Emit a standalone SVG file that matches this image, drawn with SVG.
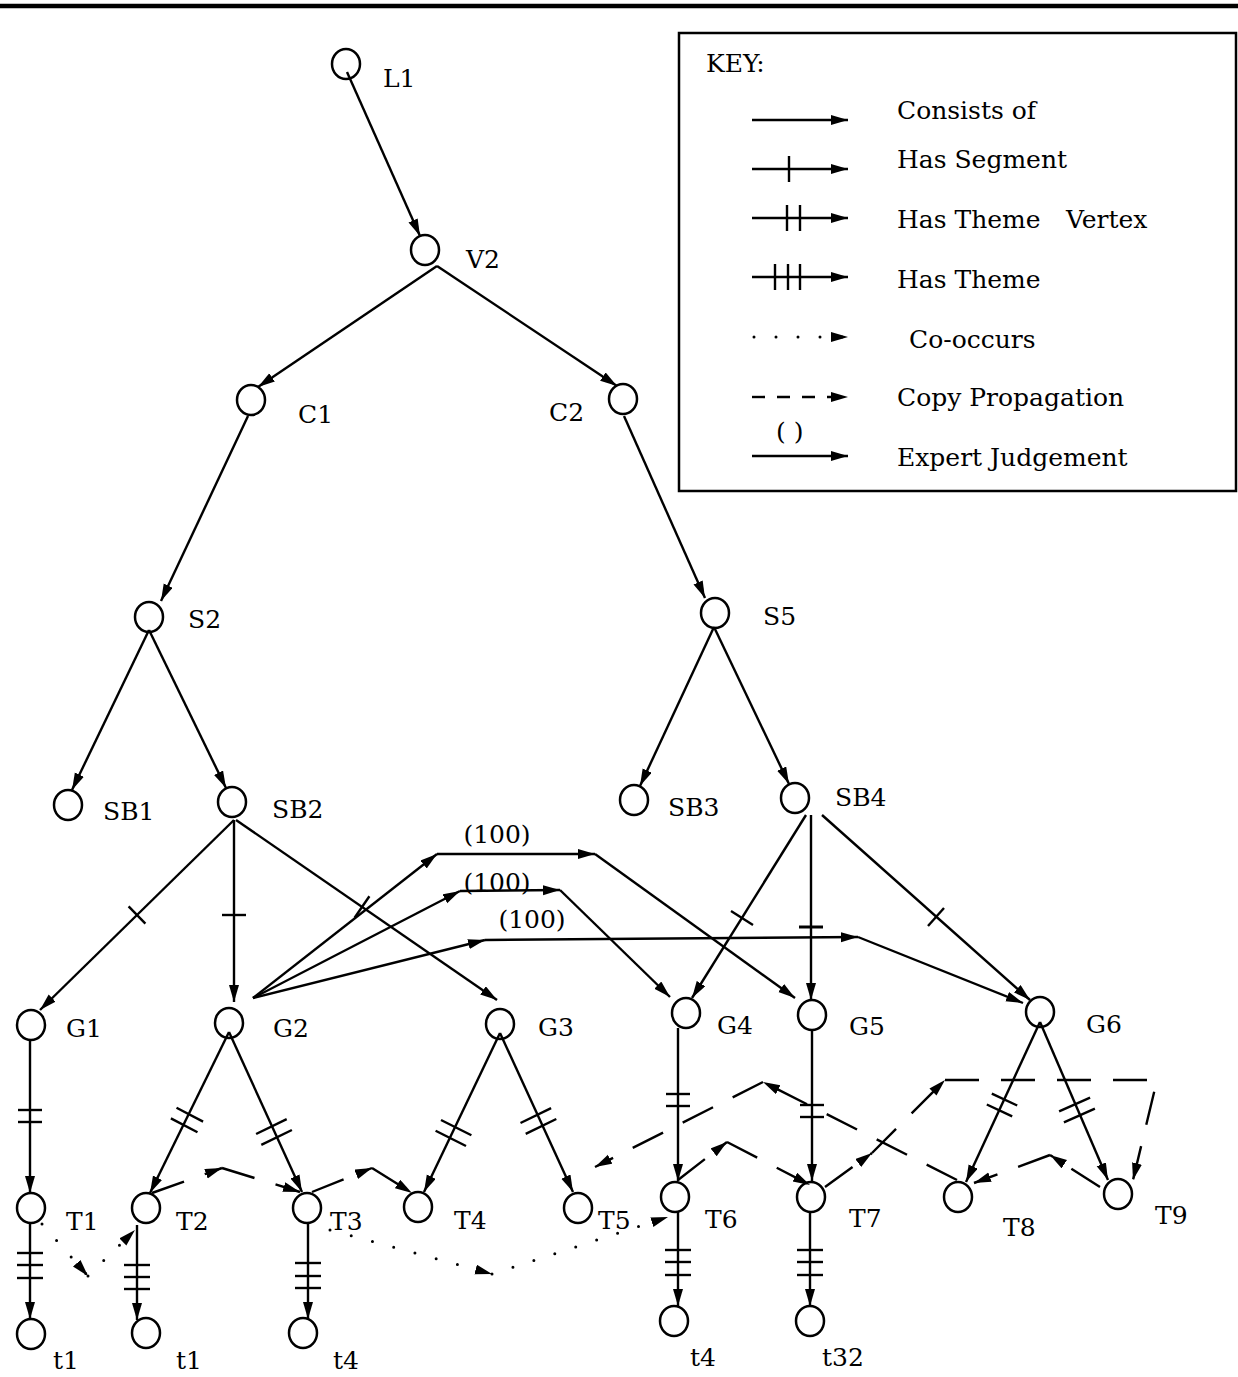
<svg xmlns="http://www.w3.org/2000/svg" width="1238" height="1377" viewBox="0 0 1238 1377">
<defs>
<marker id="ah" markerUnits="userSpaceOnUse" markerWidth="18" markerHeight="11" refX="17" refY="5" orient="auto"><path d="M0,0 L17,5 L0,10 z" fill="#000" stroke="none"/></marker>
<style>
.e{stroke:#000;stroke-width:2.4;fill:none;marker-end:url(#ah)}
.t{stroke:#000;stroke-width:2.4;fill:none}
.cp{stroke-dasharray:34 22}
.co{stroke-dasharray:0 22;stroke-linecap:round;stroke-width:3}
.n{fill:none;stroke:#000;stroke-width:2.5}
text{font-family:"DejaVu Serif","Liberation Serif",serif;font-size:25px;fill:#000}
</style>
</defs>
<rect width="1238" height="1377" fill="#fff"/>
<line x1="0" y1="6" x2="1238" y2="6" stroke="#000" stroke-width="4.5"/>

<g id="key">
<rect x="679" y="33" width="557" height="458" fill="none" stroke="#000" stroke-width="2.5"/>
<text x="706" y="72">KEY:</text>
<line class="e" x1="752" y1="120" x2="848" y2="120"/>
<text x="897" y="119">Consists of</text>
<line class="e" x1="752" y1="169" x2="848" y2="169"/>
<line class="t" x1="789" y1="156" x2="789" y2="182"/>
<text x="897" y="168">Has Segment</text>
<line class="e" x1="752" y1="218" x2="848" y2="218"/>
<line class="t" x1="787" y1="205" x2="787" y2="231"/>
<line class="t" x1="800" y1="205" x2="800" y2="231"/>
<text x="897" y="228">Has Theme<tspan x="1066">Vertex</tspan></text>
<line class="e" x1="752" y1="277" x2="848" y2="277"/>
<line class="t" x1="775" y1="264" x2="775" y2="290"/>
<line class="t" x1="788" y1="264" x2="788" y2="290"/>
<line class="t" x1="800" y1="264" x2="800" y2="290"/>
<text x="897" y="288">Has Theme</text>
<line class="e co" x1="754" y1="337" x2="848" y2="337"/>
<text x="909" y="348">Co-occurs</text>
<line class="e" x1="752" y1="397" x2="848" y2="397" style="stroke-dasharray:13 12"/>
<text x="897" y="406">Copy Propagation</text>
<text x="776" y="440">( )</text>
<line class="e" x1="752" y1="456" x2="848" y2="456"/>
<text x="897" y="466">Expert Judgement</text>
</g>

<g id="connectors">
<!-- consists of -->
<line class="e" x1="347" y1="72" x2="420" y2="236"/>
<line class="e" x1="437" y1="266" x2="258" y2="387"/>
<line class="e" x1="437" y1="266" x2="617" y2="386"/>
<line class="e" x1="248" y1="416" x2="161" y2="601"/>
<line class="e" x1="624" y1="416" x2="705" y2="598"/>
<line class="e" x1="149" y1="630" x2="72" y2="790"/>
<line class="e" x1="149" y1="630" x2="226" y2="788"/>
<line class="e" x1="714" y1="627" x2="640" y2="786"/>
<line class="e" x1="714" y1="627" x2="789" y2="784"/>
<!-- has segment -->
<line class="e" x1="234" y1="820" x2="40" y2="1010"/>
<line class="t" x1="128.6" y1="906.4" x2="145.4" y2="923.6"/>
<line class="e" x1="234" y1="820" x2="234" y2="1002"/>
<line class="t" x1="222" y1="915" x2="246" y2="915"/>
<line class="e" x1="236" y1="820" x2="497" y2="1000"/>
<line class="t" x1="354.6" y1="917.7" x2="369.4" y2="896.3"/>
<line class="e" x1="806" y1="815" x2="692" y2="998"/>
<line class="t" x1="731" y1="911.1" x2="753" y2="924.9"/>
<line class="e" x1="811" y1="815" x2="811" y2="1000"/>
<line class="t" x1="799" y1="927" x2="823" y2="927" style="stroke-width:3"/>
<line class="e" x1="822" y1="815" x2="1030" y2="1000"/>
<line class="t" x1="928" y1="926" x2="944" y2="908"/>
<!-- expert judgement -->
<line class="e" x1="253" y1="998" x2="437" y2="854"/>
<line class="e" x1="437" y1="854" x2="595" y2="854"/>
<line class="e" x1="595" y1="854" x2="795" y2="998"/>
<line class="e" x1="253" y1="998" x2="460" y2="891"/>
<line class="e" x1="460" y1="891" x2="560" y2="890"/>
<line class="e" x1="560" y1="890" x2="670" y2="997"/>
<line class="e" x1="253" y1="998" x2="485" y2="940"/>
<line class="e" x1="485" y1="940" x2="858" y2="937"/>
<line class="e" x1="858" y1="937" x2="1023" y2="1003"/>
<text x="497" y="843" text-anchor="middle">(100)</text>
<text x="497" y="891" text-anchor="middle">(100)</text>
<text x="532" y="928" text-anchor="middle">(100)</text>
<!-- has theme vertex -->
<line class="e" x1="30" y1="1040" x2="30" y2="1193"/>
<line class="t" x1="18" y1="1110" x2="42" y2="1110"/>
<line class="t" x1="18" y1="1122" x2="42" y2="1122"/>
<line class="e" x1="229" y1="1032" x2="150" y2="1193"/>
<line class="t" x1="176.5" y1="1107.8" x2="203.1" y2="1121.6"/>
<line class="t" x1="170.9" y1="1118.4" x2="197.5" y2="1132.2"/>
<line class="e" x1="229" y1="1032" x2="302" y2="1192"/>
<line class="t" x1="256.1" y1="1134" x2="286.7" y2="1119.2"/>
<line class="t" x1="261.3" y1="1144.8" x2="291.9" y2="1130"/>
<line class="e" x1="500" y1="1033" x2="424" y2="1192"/>
<line class="t" x1="441" y1="1120" x2="471.4" y2="1135.2"/>
<line class="t" x1="435.6" y1="1130.8" x2="466" y2="1146"/>
<line class="e" x1="500" y1="1033" x2="573" y2="1192"/>
<line class="t" x1="520.5" y1="1123" x2="551.1" y2="1108.2"/>
<line class="t" x1="525.7" y1="1133.8" x2="556.3" y2="1119"/>
<line class="e" x1="678" y1="1028" x2="678" y2="1181"/>
<line class="t" x1="666" y1="1094" x2="690" y2="1094"/>
<line class="t" x1="666" y1="1106" x2="690" y2="1106"/>
<line class="e" x1="812" y1="1030" x2="812" y2="1181"/>
<line class="t" x1="800" y1="1105" x2="824" y2="1105"/>
<line class="t" x1="800" y1="1117" x2="824" y2="1117"/>
<line class="e" x1="1040" y1="1022" x2="966" y2="1182"/>
<line class="t" x1="991.8" y1="1093.7" x2="1017.2" y2="1105.5"/>
<line class="t" x1="986.8" y1="1104.5" x2="1012.2" y2="1116.3"/>
<line class="e" x1="1040" y1="1022" x2="1108" y2="1180"/>
<line class="t" x1="1059.1" y1="1111.4" x2="1090.1" y2="1097.6"/>
<line class="t" x1="1063.9" y1="1122.4" x2="1094.9" y2="1108.6"/>
<!-- has theme -->
<line class="e" x1="30" y1="1222" x2="30" y2="1319"/>
<line class="t" x1="17" y1="1253" x2="43" y2="1253"/>
<line class="t" x1="17" y1="1265" x2="43" y2="1265"/>
<line class="t" x1="17" y1="1278" x2="43" y2="1278"/>
<line class="e" x1="137" y1="1225" x2="137" y2="1320"/>
<line class="t" x1="124" y1="1265" x2="150" y2="1265"/>
<line class="t" x1="124" y1="1277" x2="150" y2="1277"/>
<line class="t" x1="124" y1="1289" x2="150" y2="1289"/>
<line class="e" x1="308" y1="1224" x2="308" y2="1319"/>
<line class="t" x1="295" y1="1263" x2="321" y2="1263"/>
<line class="t" x1="295" y1="1276" x2="321" y2="1276"/>
<line class="t" x1="295" y1="1288" x2="321" y2="1288"/>
<line class="e" x1="678" y1="1212" x2="678" y2="1306"/>
<line class="t" x1="665" y1="1250" x2="691" y2="1250"/>
<line class="t" x1="665" y1="1262" x2="691" y2="1262"/>
<line class="t" x1="665" y1="1275" x2="691" y2="1275"/>
<line class="e" x1="810" y1="1212" x2="810" y2="1306"/>
<line class="t" x1="797" y1="1250" x2="823" y2="1250"/>
<line class="t" x1="797" y1="1262" x2="823" y2="1262"/>
<line class="t" x1="797" y1="1275" x2="823" y2="1275"/>
<!-- copy propagation -->
<line class="e cp" x1="152" y1="1193" x2="222" y2="1168"/>
<line class="e cp" x1="222" y1="1168" x2="300" y2="1192"/>
<line class="e cp" x1="312" y1="1192" x2="372" y2="1168"/>
<line class="e cp" x1="372" y1="1168" x2="412" y2="1193"/>
<line class="e cp" x1="678" y1="1180" x2="727" y2="1142"/>
<line class="e cp" x1="727" y1="1142" x2="810" y2="1185"/>
<line class="e cp" x1="957" y1="1180" x2="763" y2="1082"/>
<line class="e cp" x1="763" y1="1082" x2="595" y2="1167"/>
<line class="e cp" x1="825" y1="1187" x2="872" y2="1153"/>
<line class="e cp" x1="872" y1="1153" x2="945" y2="1080"/>
<polyline class="e cp" points="945,1080 1157,1080 1133,1180"/>
<line class="e cp" x1="1100" y1="1187" x2="1050" y2="1155"/>
<line class="e cp" x1="1050" y1="1155" x2="974" y2="1183"/>
<!-- co-occurs -->
<line class="e co" x1="42" y1="1224" x2="88" y2="1276"/>
<line class="e co" x1="88" y1="1276" x2="135" y2="1230"/>
<line class="e co" x1="330" y1="1230" x2="492" y2="1274"/>
<line class="e co" x1="492" y1="1274" x2="668" y2="1217"/>
</g>

<g id="L1"><ellipse class="n" cx="346" cy="64" rx="14" ry="15"/><text x="383" y="87">L1</text></g>
<g id="V2"><ellipse class="n" cx="425" cy="250" rx="14" ry="15"/><text x="466" y="268">V2</text></g>
<g id="C1"><ellipse class="n" cx="251" cy="400" rx="14" ry="15"/><text x="298" y="423">C1</text></g>
<g id="C2"><ellipse class="n" cx="623" cy="399" rx="14" ry="15"/><text x="549" y="421">C2</text></g>
<g id="S2"><ellipse class="n" cx="149" cy="617" rx="14" ry="15"/><text x="188" y="628">S2</text></g>
<g id="S5"><ellipse class="n" cx="715" cy="613" rx="14" ry="15"/><text x="763" y="625">S5</text></g>
<g id="SB1"><ellipse class="n" cx="68" cy="805" rx="14" ry="15"/><text x="103" y="820">SB1</text></g>
<g id="SB2"><ellipse class="n" cx="232" cy="802" rx="14" ry="15"/><text x="272" y="818">SB2</text></g>
<g id="SB3"><ellipse class="n" cx="634" cy="800" rx="14" ry="15"/><text x="668" y="816">SB3</text></g>
<g id="SB4"><ellipse class="n" cx="795" cy="798" rx="14" ry="15"/><text x="835" y="806">SB4</text></g>
<g id="G1"><ellipse class="n" cx="31" cy="1025" rx="14" ry="15"/><text x="66" y="1037">G1</text></g>
<g id="G2"><ellipse class="n" cx="229" cy="1023" rx="14" ry="15"/><text x="273" y="1037">G2</text></g>
<g id="G3"><ellipse class="n" cx="500" cy="1024" rx="14" ry="15"/><text x="538" y="1036">G3</text></g>
<g id="G4"><ellipse class="n" cx="686" cy="1013" rx="14" ry="15"/><text x="717" y="1034">G4</text></g>
<g id="G5"><ellipse class="n" cx="812" cy="1015" rx="14" ry="15"/><text x="849" y="1035">G5</text></g>
<g id="G6"><ellipse class="n" cx="1040" cy="1012" rx="14" ry="15"/><text x="1086" y="1033">G6</text></g>
<g id="T1"><ellipse class="n" cx="31" cy="1208" rx="14" ry="15"/><text x="66" y="1230">T1</text></g>
<g id="T2"><ellipse class="n" cx="146" cy="1208" rx="14" ry="15"/><text x="176" y="1230">T2</text></g>
<g id="T3"><ellipse class="n" cx="307" cy="1208" rx="14" ry="15"/><text x="330" y="1230">T3</text></g>
<g id="T4"><ellipse class="n" cx="418" cy="1207" rx="14" ry="15"/><text x="454" y="1229">T4</text></g>
<g id="T5"><ellipse class="n" cx="578" cy="1208" rx="14" ry="15"/><text x="598" y="1229">T5</text></g>
<g id="T6"><ellipse class="n" cx="675" cy="1197" rx="14" ry="15"/><text x="705" y="1228">T6</text></g>
<g id="T7"><ellipse class="n" cx="811" cy="1197" rx="14" ry="15"/><text x="849" y="1227">T7</text></g>
<g id="T8"><ellipse class="n" cx="958" cy="1197" rx="14" ry="15"/><text x="1003" y="1236">T8</text></g>
<g id="T9"><ellipse class="n" cx="1118" cy="1194" rx="14" ry="15"/><text x="1155" y="1224">T9</text></g>
<g id="t1a"><ellipse class="n" cx="31" cy="1334" rx="14" ry="15"/><text x="53" y="1369">t1</text></g>
<g id="t1b"><ellipse class="n" cx="146" cy="1333" rx="14" ry="15"/><text x="176" y="1369">t1</text></g>
<g id="t4a"><ellipse class="n" cx="303" cy="1333" rx="14" ry="15"/><text x="333" y="1369">t4</text></g>
<g id="t4b"><ellipse class="n" cx="674" cy="1321" rx="14" ry="15"/><text x="690" y="1366">t4</text></g>
<g id="t32"><ellipse class="n" cx="810" cy="1321" rx="14" ry="15"/><text x="822" y="1366">t32</text></g>
</svg>
